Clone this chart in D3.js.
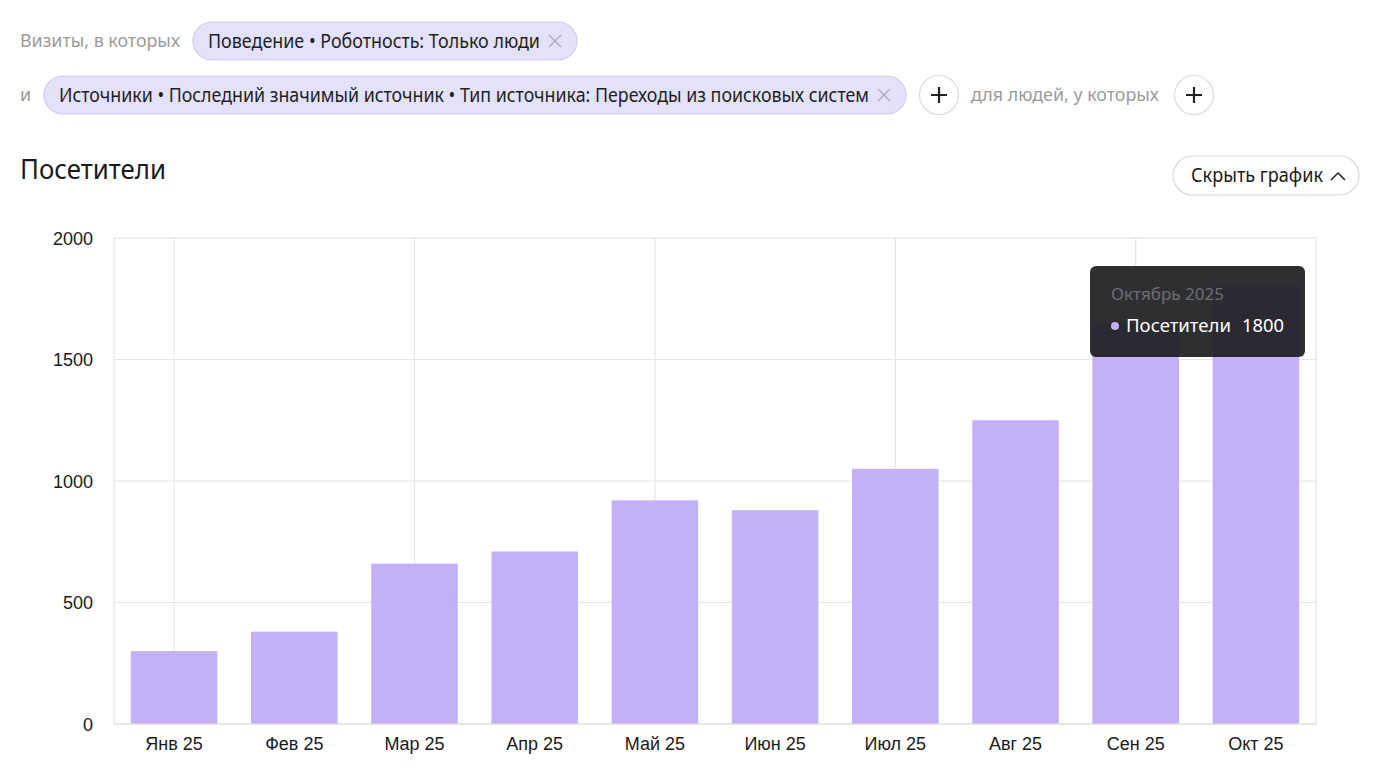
<!DOCTYPE html>
<html><head><meta charset="utf-8">
<script src="https://cdn.jsdelivr.net/npm/d3@7"></script>
<style>
html,body{margin:0;padding:0;background:#fff;}
svg{display:block;}
</style></head>
<body>
<svg id="c" width="1376" height="768"></svg>
<script>
const months = ["Янв 25","Фев 25","Мар 25","Апр 25","Май 25","Июн 25","Июл 25","Авг 25","Сен 25","Окт 25"];
const visitors = [300, 380, 660, 710, 920, 880, 1050, 1250, 1650, 1800];
const yTicks = [0, 500, 1000, 1500, 2000];
const seriesName = "Посетители";
const tooltipTitle = "Октябрь 2025";
const tooltipIndex = 9;

(function () {
const svg = d3.select("#c");
const UI = "'Noto Sans', 'Open Sans', sans-serif";
const AX = "'Liberation Sans', Arial, sans-serif";

function txt(x, y, s, size, color, len, family, anchor) {
  const t = svg.append("text").attr("x", x).attr("y", y).text(s)
    .attr("font-family", family || UI).attr("font-size", size).attr("fill", color)
    .attr("text-anchor", anchor || "start");
  if (len) t.attr("textLength", len).attr("lengthAdjust", "spacingAndGlyphs");
  return t;
}
function chip(x, y, w, h, label, textLen) {
  svg.append("rect").attr("x", x).attr("y", y).attr("width", w).attr("height", h)
    .attr("rx", h/2).attr("fill", "#e4e2fb").attr("stroke", "#cdc9f0").attr("stroke-width", 1.2);
  txt(x + 15, y + h/2 + 7, label, 19, "#1f1f1f", textLen);
  const cx = x + w - 22, cy = y + h/2;
  svg.append("path").attr("d", `M${cx-6},${cy-6}L${cx+6},${cy+6}M${cx+6},${cy-6}L${cx-6},${cy+6}`)
    .attr("stroke", "#a8a8b8").attr("stroke-width", 1.3);
}
function plusBtn(cx, cy) {
  svg.append("circle").attr("cx", cx).attr("cy", cy).attr("r", 19.5)
    .attr("fill", "#fff").attr("stroke", "#dcdcdc").attr("stroke-width", 1.2);
  svg.append("path").attr("d", `M${cx-8},${cy}L${cx+8},${cy}M${cx},${cy-8}L${cx},${cy+8}`)
    .attr("stroke", "#222").attr("stroke-width", 2.2);
}

// Filter header
txt(20, 47, "Визиты, в которых", 18, "#9a9a9a", 160);
chip(193, 22, 384, 38, "Поведение • Роботность: Только люди", 332);
txt(20, 101, "и", 18, "#9a9a9a");
chip(44, 76, 862, 38, "Источники • Последний значимый источник • Тип источника: Переходы из поисковых систем", 810);
plusBtn(939, 95);
txt(971, 101, "для людей, у которых", 18, "#9a9a9a", 188);
plusBtn(1194, 95);

// Title + button
txt(20, 179, "Посетители", 27, "#1a1a1a", 146);
svg.append("rect").attr("x", 1173).attr("y", 156).attr("width", 186).attr("height", 39)
  .attr("rx", 19.5).attr("fill", "#fff").attr("stroke", "#d8d8d8").attr("stroke-width", 1.2);
txt(1191, 182, "Скрыть график", 19, "#1a1a1a", 132);
svg.append("path").attr("d", "M1331,180L1338,173L1345,180").attr("fill", "none")
  .attr("stroke", "#222").attr("stroke-width", 1.5);

// Chart
const pL = 114, pR = 1316, pT = 238, pB = 724;
const x = d3.scaleBand().domain(months).range([pL, pR]).paddingInner(0.28).paddingOuter(0.14);
const y = d3.scaleLinear().domain([0, 2000]).range([pB, pT]);
const grid = "#e5e5e5";

svg.append("rect").attr("x", pL).attr("y", pT).attr("width", pR-pL).attr("height", pB-pT)
  .attr("fill", "none").attr("stroke", grid).attr("stroke-width", 1.2);
svg.append("g").selectAll("line").data(yTicks.slice(1, -1)).join("line")
  .attr("x1", pL).attr("x2", pR).attr("y1", d => y(d)).attr("y2", d => y(d))
  .attr("stroke", grid).attr("stroke-width", 1.2);
svg.append("g").selectAll("line").data(months.filter((m, i) => i % 2 === 0)).join("line")
  .attr("x1", d => x(d) + x.bandwidth()/2).attr("x2", d => x(d) + x.bandwidth()/2)
  .attr("y1", pT).attr("y2", pB).attr("stroke", grid).attr("stroke-width", 1.2);

svg.append("g").selectAll("rect").data(visitors).join("rect")
  .attr("x", (d, i) => x(months[i])).attr("width", x.bandwidth())
  .attr("y", d => y(d)).attr("height", d => pB - y(d))
  .attr("fill", "#c3b1f6");

svg.append("line").attr("x1", pL).attr("x2", pR).attr("y1", pB).attr("y2", pB)
  .attr("stroke", "#dedede").attr("stroke-width", 1.2);

const ya = svg.append("g").attr("transform", `translate(${pL},0)`)
  .call(d3.axisLeft(y).tickValues(yTicks).tickSize(0).tickPadding(21).tickFormat(d3.format("d")));
ya.select(".domain").remove();
ya.selectAll("text").attr("font-family", AX).attr("font-size", 18).attr("fill", "#1a1a1a").attr("dy", "0.35em");

const xa = svg.append("g").attr("transform", `translate(0,${pB})`)
  .call(d3.axisBottom(x).tickSize(0).tickPadding(13));
xa.select(".domain").remove();
xa.selectAll("text").attr("font-family", AX).attr("font-size", 18).attr("fill", "#1a1a1a");

// Tooltip
svg.append("rect").attr("x", 1090).attr("y", 266).attr("width", 215).attr("height", 91)
  .attr("rx", 6).attr("fill", "#1f1f22").attr("fill-opacity", 0.93);
txt(1111, 300, tooltipTitle, 17, "#6e6e72", 113);
svg.append("circle").attr("cx", 1115).attr("cy", 326).attr("r", 4).attr("fill", "#c3b1f6");
txt(1126, 332, seriesName, 18, "#ffffff", 105);
txt(1284, 332, String(visitors[tooltipIndex]), 18, "#ffffff", 42, UI, "end");
})();
</script>
</body></html>
